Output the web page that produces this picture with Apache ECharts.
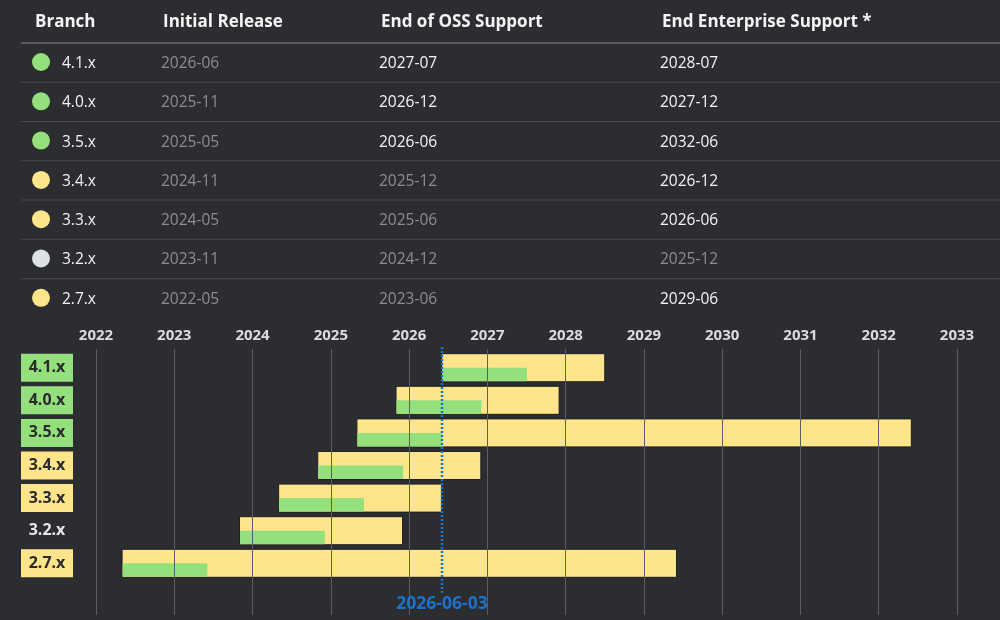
<!DOCTYPE html>
<html>
<head>
<meta charset="utf-8">
<script src="https://cdn.jsdelivr.net/npm/echarts@6/dist/echarts.min.js"></script>
<style>
  html, body { margin: 0; padding: 0; background: #2b2d31; }
  #chart { width: 1000px; height: 620px; }
</style>
</head>
<body>
<div id="chart"></div>
<script>
// release data
const branches = ['4.1.x', '4.0.x', '3.5.x', '3.4.x', '3.3.x', '3.2.x', '2.7.x']
const initialRelease = ['2026-06', '2025-11', '2025-05', '2024-11', '2024-05', '2023-11', '2022-05']
const ossEnd = ['2027-07', '2026-12', '2026-06', '2025-12', '2025-06', '2024-12', '2023-06']
const enterpriseEnd = ['2028-07', '2027-12', '2032-06', '2026-12', '2026-06', '2025-12', '2029-06']
const headers = ['Branch', 'Initial Release', 'End of OSS Support', 'End Enterprise Support *']
const yearMin = 2022
const yearMax = 2033
const today = '2026-06-03'

const GREEN = '#93e07c'
const YELLOW = '#fee48b'
const GREY = '#dfe2e5'
const BG = '#2b2d31'
const WHITE = '#f4f4f4'
const MUTED = '#8d8e90'
const BLUE = '#1f72cc'
const FONT = '"Open Sans", "Noto Sans", sans-serif'

const todayMonth = today.slice(0, 7)

// "2026-06" -> decimal year
const toYear = s => {
  const p = s.split('-').map(Number)
  const day = p[2] ? p[2] - 1 : 0
  return p[0] + (p[1] - 1) / 12 + day / 365
}

const status = branches.map((b, i) => {
  if (ossEnd[i] >= todayMonth) return 'g'
  if (enterpriseEnd[i] >= todayMonth) return 'y'
  return 'n'
})
const statusColor = { g: GREEN, y: YELLOW, n: GREY }

// table drawn with graphic elements
const colX = [35, 163, 381, 662]
const headerY = 22
const rowY0 = 62
const rowH = 39.3
const graphics = []

headers.forEach((h, c) => {
  graphics.push({
    type: 'text', x: colX[c], y: headerY,
    style: { text: h, fill: WHITE, fontSize: 17, fontWeight: 'bold', fontFamily: FONT, verticalAlign: 'middle' }
  })
})
graphics.push({
  type: 'rect', shape: { x: 21, y: 42, width: 979, height: 2 },
  style: { fill: '#595a5e' }
})
branches.forEach((b, i) => {
  const y = rowY0 + i * rowH
  if (i < branches.length - 1) {
    graphics.push({
      type: 'rect', shape: { x: 21, y: y + rowH / 2, width: 979, height: 1 },
      style: { fill: '#4a4b4f' }
    })
  }
  graphics.push({
    type: 'circle', shape: { cx: 41, cy: y, r: 9 },
    style: { fill: statusColor[status[i]] }
  })
  const cells = [
    [b, 62, WHITE],
    [initialRelease[i], 161, MUTED],
    [ossEnd[i], 379, ossEnd[i] >= todayMonth ? WHITE : MUTED],
    [enterpriseEnd[i], 660, enterpriseEnd[i] >= todayMonth ? WHITE : MUTED]
  ]
  cells.forEach(([t, x, col]) => {
    graphics.push({
      type: 'text', x: x, y: y + 1.5,
      style: { text: t, fill: col, fontSize: 15.5, fontFamily: FONT, verticalAlign: 'middle' }
    })
  })
})

const barData = branches.map((b, i) => [i, toYear(initialRelease[i]), toYear(ossEnd[i]), toYear(enterpriseEnd[i])])

const renderBar = (params, api) => {
  const cat = api.value(0)
  const p0 = api.coord([api.value(1), cat])
  const p1 = api.coord([api.value(2), cat])
  const p2 = api.coord([api.value(3), cat])
  const h = api.size([0, 1])[1] * 0.86
  return {
    type: 'group',
    children: [
      {
        type: 'rect',
        shape: { x: p0[0], y: p0[1] - h / 2, width: p2[0] - p0[0], height: h },
        style: { fill: YELLOW, stroke: '#1d1e21', lineWidth: 1 }
      },
      {
        type: 'rect',
        shape: { x: p0[0] + 0.5, y: p0[1], width: p1[0] - p0[0], height: h / 2 - 0.5 },
        style: { fill: GREEN }
      }
    ]
  }
}

// dotted "today" marker with its date below
const renderToday = (params, api) => {
  const cs = params.coordSys
  const x = Math.round(api.coord([api.value(0), 0])[0])
  const bottom = cs.y + cs.height * 0.917
  return {
    type: 'group',
    children: [
      {
        type: 'line',
        shape: { x1: x, y1: cs.y - 2, x2: x, y2: bottom },
        style: { stroke: BLUE, lineWidth: 2.5, lineDash: [2, 2] }
      },
      {
        type: 'text',
        x: x, y: bottom + 11,
        style: { text: today, fill: BLUE, fontSize: 17.5, fontWeight: 'bold', fontFamily: FONT, align: 'center', verticalAlign: 'middle' }
      }
    ]
  }
}

const chart = echarts.init(document.getElementById('chart'))
chart.setOption({
  backgroundColor: BG,
  animation: false,
  graphic: graphics,
  grid: [
    { left: 96, right: 43, top: 351.4, height: 228.2 },
    { left: 96, right: 43, top: 349, bottom: 5 }
  ],
  xAxis: [
    { gridIndex: 0, type: 'value', min: yearMin, max: yearMax, show: false },
    {
      gridIndex: 1, type: 'value', min: yearMin, max: yearMax, interval: 1,
      position: 'top', z: 5,
      axisLine: { show: false },
      axisTick: { show: false },
      axisLabel: {
        color: '#dcdcdc', fontSize: 15, fontWeight: 'bold', fontFamily: FONT, margin: 6,
        formatter: v => String(v)
      },
      splitLine: { show: true, lineStyle: { color: '#5c5e62', width: 1 } }
    }
  ],
  yAxis: [
    {
      gridIndex: 0, type: 'category', inverse: true, data: branches,
      axisLine: { show: false },
      axisTick: { show: false },
      splitLine: { show: false },
      axisLabel: {
        margin: 23,
        formatter: (v, i) => '{' + status[i] + '|' + v + '}',
        rich: {
          g: { backgroundColor: GREEN, color: '#2b2b2b', width: 52, height: 28, lineHeight: 28, align: 'center', fontSize: 16, fontWeight: 'bold', fontFamily: FONT },
          y: { backgroundColor: YELLOW, color: '#2b2b2b', width: 52, height: 28, lineHeight: 28, align: 'center', fontSize: 16, fontWeight: 'bold', fontFamily: FONT },
          n: { color: '#e6e6e6', width: 52, height: 28, lineHeight: 28, align: 'center', fontSize: 16, fontWeight: 'bold', fontFamily: FONT }
        }
      }
    },
    { gridIndex: 1, type: 'value', min: 0, max: 1, inverse: true, show: false }
  ],
  series: [
    {
      type: 'custom',
      xAxisIndex: 0,
      yAxisIndex: 0,
      renderItem: renderBar,
      encode: { x: [1, 2, 3], y: 0 },
      data: barData,
      z: 2
    },
    {
      type: 'custom',
      xAxisIndex: 1,
      yAxisIndex: 1,
      renderItem: renderToday,
      encode: { x: 0 },
      data: [[toYear(today)]],
      clip: false,
      z: 6
    }
  ]
})
</script>
</body>
</html>
